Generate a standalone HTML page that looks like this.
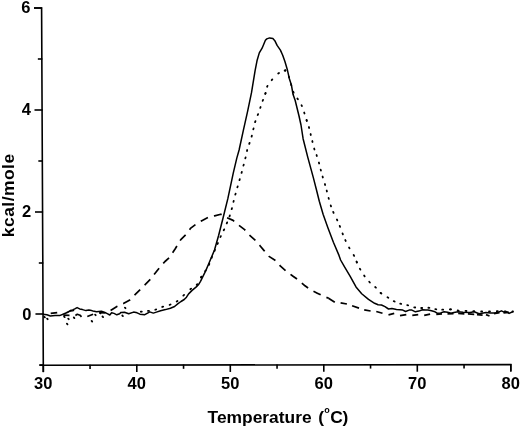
<!DOCTYPE html>
<html><head><meta charset="utf-8"><style>
html,body{margin:0;padding:0;background:#fff;}
svg{display:block;filter:grayscale(1);}
text{font-family:"Liberation Sans",sans-serif;font-weight:bold;fill:#000;}
</style></head><body>
<svg width="520" height="428" viewBox="0 0 520 428">
<rect width="520" height="428" fill="#fff"/>
<g stroke="#000" stroke-width="1.6" fill="none" stroke-linecap="butt">
<polyline points="34.00,8 41.60,8 43.33,372"/>
<polyline points="39.50,365.20 510.8,364.6 510.8,371.5"/>
<line x1="39.30" y1="365.00" x2="43.80" y2="365.00"/><line x1="35.46" y1="314.00" x2="43.56" y2="314.00"/><line x1="38.81" y1="263.00" x2="43.31" y2="263.00"/><line x1="34.97" y1="212.00" x2="43.07" y2="212.00"/><line x1="38.33" y1="161.00" x2="42.83" y2="161.00"/><line x1="34.49" y1="110.00" x2="42.59" y2="110.00"/><line x1="37.84" y1="59.00" x2="42.34" y2="59.00"/><line x1="34.00" y1="8.00" x2="42.10" y2="8.00"/><line x1="43.30" y1="364.70" x2="43.30" y2="372.20"/><line x1="90.05" y1="364.64" x2="90.05" y2="368.94"/><line x1="136.80" y1="364.58" x2="136.80" y2="372.08"/><line x1="183.55" y1="364.52" x2="183.55" y2="368.82"/><line x1="230.30" y1="364.46" x2="230.30" y2="371.96"/><line x1="277.05" y1="364.40" x2="277.05" y2="368.70"/><line x1="323.80" y1="364.34" x2="323.80" y2="371.84"/><line x1="370.55" y1="364.28" x2="370.55" y2="368.58"/><line x1="417.30" y1="364.22" x2="417.30" y2="371.72"/><line x1="464.05" y1="364.16" x2="464.05" y2="368.46"/><line x1="510.80" y1="364.10" x2="510.80" y2="371.60"/>
</g>
<g fill="none" stroke="#000" stroke-linejoin="round">
<polyline stroke-width="1.5" points="43.0,314.2 46.9,314.8 50.4,316.0 55.0,315.4 59.6,315.6 64.2,313.7 67.8,312.2 70.3,310.5 72.7,309.9 74.8,308.9 77.1,307.6 79.7,308.9 82.5,309.6 86.0,310.6 88.8,309.9 91.6,310.6 93.0,311.0 96.5,311.7 101.4,311.2 104.9,312.4 107.7,313.8 109.8,315.0 111.6,312.7 114.0,313.4 116.8,314.8 119.6,313.8 121.0,312.4 124.5,312.3 128.7,313.8 133.6,312.1 137.1,312.8 139.9,314.2 144.8,314.7 147.6,313.1 149.7,311.9 153.3,313.1 156.4,312.1 160.6,310.7 165.5,309.6 170.4,308.2 174.6,306.5 178.0,303.7 181.0,301.5 184.2,299.5 186.5,297.2 188.6,293.9 192.1,290.4 196.3,286.9 198.4,284.8 200.5,281.3 202.6,277.1 204.7,272.9 206.0,270.1 208.3,264.8 210.4,259.8 214.5,250.0 218.6,235.5 223.3,217.0 227.9,198.4 233.2,173.4 236.8,158.1 239.1,150.0 243.4,130.1 247.6,111.4 251.5,92.7 255.1,70.7 257.0,60.8 259.3,52.9 262.1,48.2 265.4,40.3 266.8,38.9 269.6,37.9 272.9,38.6 274.8,40.7 277.1,45.4 280.4,50.1 282.7,55.2 285.0,61.8 287.2,69.2 289.3,78.4 291.4,84.9 293.0,94.3 295.2,100.5 298.9,115.5 301.0,125.0 303.1,138.7 307.8,157.4 313.4,177.9 316.5,190.0 319.3,201.2 323.1,214.3 327.8,227.4 333.4,242.3 339.0,255.4 340.6,260.0 344.4,266.7 350.2,276.3 356.0,286.9 361.7,293.7 368.5,299.4 374.6,303.3 378.1,304.8 381.5,305.0 385.0,306.7 388.5,309.0 391.9,308.5 396.5,309.4 400.0,309.7 402.8,310.1 405.6,311.5 409.1,310.1 411.9,310.1 415.4,311.8 418.9,311.1 422.4,309.7 425.9,310.1 428.0,310.1 431.5,310.8 435.0,311.8 437.1,313.2 440.6,312.9 444.1,311.8 447.6,312.2 451.1,313.2 453.9,312.5 458.0,311.8 463.0,312.2 470.0,312.5 474.2,311.8 479.1,313.7 486.0,312.4 490.2,312.9 495.1,312.9 498.6,312.2 501.4,310.8 504.2,312.2 507.0,311.8 509.1,313.4 513.3,311.5"/>
<polyline stroke-width="1.3" points="66.5,312.6 68.5,311.8 70.5,311.2 72.5,310.9 74.2,310.4"/>
<g stroke-width="1.8" stroke-linecap="round"><line x1="140.80" y1="311.76" x2="141.80" y2="311.64"/><line x1="148.01" y1="310.97" x2="148.99" y2="310.83"/><line x1="155.22" y1="309.74" x2="156.18" y2="309.46"/><line x1="162.23" y1="306.96" x2="163.17" y2="306.64"/><line x1="169.63" y1="304.88" x2="170.57" y2="304.52"/><line x1="176.69" y1="301.49" x2="177.51" y2="300.91"/><line x1="183.33" y1="295.54" x2="184.07" y2="294.86"/><line x1="190.31" y1="289.21" x2="191.09" y2="288.59"/><line x1="196.67" y1="284.87" x2="197.33" y2="284.13"/><line x1="200.95" y1="277.53" x2="201.45" y2="276.67"/><polyline stroke-dasharray="1.0 6.522" stroke-dashoffset="0.5" points="201.2,277.1 205.0,271.5 208.5,266.0 211.6,257.8 214.7,250.5 217.9,243.1 221.0,235.7 225.2,227.3 229.4,216.8 232.6,206.0 234.2,198.5 241.4,173.4 245.7,157.0 247.2,150.0 251.5,137.1 255.0,122.3 258.5,113.0 262.8,100.5 265.5,93.3"/><line x1="265.38" y1="93.78" x2="265.62" y2="92.82"/><line x1="267.08" y1="86.75" x2="267.52" y2="85.85"/><line x1="271.67" y1="80.18" x2="272.33" y2="79.42"/><line x1="278.19" y1="73.49" x2="279.01" y2="72.91"/><line x1="284.64" y1="70.60" x2="285.56" y2="70.20"/><polyline stroke-dasharray="1.0 6.863" stroke-dashoffset="0.5" points="285.1,70.4 288.6,75.6 291.2,84.9 293.5,92.4 297.1,98.0 301.7,105.5 304.5,113.5 306.7,120.5"/><line x1="306.54" y1="120.02" x2="306.86" y2="120.98"/><line x1="308.86" y1="127.02" x2="309.14" y2="127.98"/><line x1="310.58" y1="134.01" x2="310.82" y2="134.99"/><line x1="312.28" y1="141.01" x2="312.52" y2="141.99"/><line x1="314.15" y1="148.52" x2="314.45" y2="149.48"/><line x1="316.54" y1="155.03" x2="316.86" y2="155.97"/><line x1="318.86" y1="162.52" x2="319.14" y2="163.48"/><line x1="320.67" y1="169.62" x2="320.93" y2="170.58"/><line x1="322.56" y1="176.52" x2="322.84" y2="177.48"/><line x1="324.86" y1="184.02" x2="325.14" y2="184.98"/><line x1="326.67" y1="190.52" x2="326.93" y2="191.48"/><line x1="328.57" y1="197.92" x2="328.83" y2="198.88"/><line x1="330.74" y1="205.43" x2="331.06" y2="206.37"/><line x1="333.20" y1="211.94" x2="333.60" y2="212.86"/><line x1="336.89" y1="219.45" x2="337.31" y2="220.35"/><line x1="339.71" y1="225.94" x2="340.09" y2="226.86"/><line x1="342.52" y1="233.44" x2="342.88" y2="234.36"/><line x1="345.29" y1="240.05" x2="345.71" y2="240.95"/><line x1="349.05" y1="247.46" x2="349.55" y2="248.34"/><line x1="353.67" y1="254.96" x2="354.13" y2="255.84"/><line x1="356.50" y1="261.54" x2="356.90" y2="262.46"/><polyline stroke-dasharray="1.0 6.998" stroke-dashoffset="0.5" points="356.7,262.0 359.8,268.7 364.6,276.3 370.4,283.1 376.2,287.9 381.0,293.2"/><line x1="380.58" y1="292.94" x2="381.42" y2="293.46"/><line x1="387.47" y1="297.24" x2="388.33" y2="297.76"/><line x1="393.75" y1="301.08" x2="394.65" y2="301.52"/><line x1="400.22" y1="303.66" x2="401.18" y2="303.94"/><line x1="407.22" y1="305.08" x2="408.18" y2="305.32"/><line x1="414.21" y1="307.30" x2="415.19" y2="307.50"/><line x1="421.20" y1="307.99" x2="422.20" y2="308.01"/><line x1="428.40" y1="307.76" x2="429.40" y2="307.84"/><line x1="435.30" y1="309.13" x2="436.30" y2="309.27"/><line x1="442.20" y1="309.69" x2="443.20" y2="309.71"/><line x1="449.90" y1="309.42" x2="450.90" y2="309.38"/><polyline stroke-dasharray="1.0 6.839" stroke-dashoffset="0.5" points="450.4,309.4 458.0,310.5 466.0,311.0 474.0,311.2 482.0,311.5 490.0,311.5 498.0,311.2 506.0,311.5 513.0,311.5"/></g>
<g stroke-width="1.8" stroke-linecap="round"><line x1="44.30" y1="316.80" x2="44.90" y2="317.40"/><line x1="47.10" y1="318.60" x2="47.70" y2="319.20"/><line x1="64.10" y1="316.50" x2="64.70" y2="317.10"/><line x1="68.20" y1="318.60" x2="68.80" y2="319.20"/><line x1="66.90" y1="323.70" x2="67.50" y2="324.30"/><line x1="73.80" y1="317.50" x2="74.40" y2="318.10"/><line x1="91.60" y1="320.90" x2="92.20" y2="321.50"/><line x1="95.10" y1="314.60" x2="95.70" y2="315.20"/><line x1="99.90" y1="312.80" x2="100.50" y2="313.40"/><line x1="102.50" y1="316.50" x2="103.10" y2="317.10"/><line x1="122.30" y1="315.50" x2="122.90" y2="316.10"/><line x1="124.90" y1="307.60" x2="125.50" y2="308.20"/></g>
<g stroke-width="1.7"><polyline points="50.7,313.4 57.2,312.6"/><polyline points="63.4,315.2 69.5,315.3"/><polyline points="75.4,315.5 77.3,314.3 80.0,315.2 81.5,316.8"/><polyline points="87.3,316.5 93.1,314.2"/><polyline points="99.5,312.6 105.5,312.9"/><polyline stroke-dasharray="8 6.3" points="110.6,310.4 117.3,306.3 123.4,303.6 129.4,300.3 134.8,294.9 140.2,289.5 144.9,284.8 150.3,279.4 154.7,273.7 159.6,267.5 165.0,261.5 169.5,257.5 175.4,248.5 180.8,239.6 186.9,233.5 190.8,228.1 196.9,223.5 202.3,220.4 208.5,217.3 214.6,215.8 220.8,214.2 226.2,217.3 233.1,220.4 238.5,225.0 244.6,229.6 248.5,234.2 255.4,240.4 260.0,245.7 264.1,250.6 269.0,256.4 275.5,260.5 280.5,266.2 286.2,271.1 292.7,276.0 298.5,280.1 305.0,285.8 310.7,289.9 317.3,293.2 322.2,295.6 328.7,298.3"/><polyline points="328.5,298.3 334.8,302.3"/><polyline points="340.6,302.9 346.9,304.0"/><polyline points="352.1,305.8 359.0,308.1"/><polyline points="364.2,309.8 370.6,311.0"/><polyline points="376.3,311.5 382.5,313.2"/><polyline points="388.5,314.8 394.2,313.4"/><polyline points="400.0,315.6 406.3,314.6"/><polyline points="412.3,315.3 418.2,314.6"/><polyline points="424.2,315.3 430.1,314.1"/><polyline points="436.3,314.3 442.0,313.8"/><polyline points="447.5,313.8 453.5,313.6"/><polyline points="458.2,313.4 464.4,313.9"/><polyline points="467.9,313.9 474.2,314.3"/><polyline points="477.0,314.6 482.6,315.1"/><polyline points="486.0,314.6 489.5,316.0"/><polyline points="494.0,313.6 499.5,312.6"/><polyline points="503.5,312.8 509.0,312.4"/></g>
</g>
<g font-size="16.5">
<text x="31.5" y="319.8" text-anchor="end">0</text><text x="31.2" y="217.0" text-anchor="end">2</text><text x="31.0" y="115.3" text-anchor="end">4</text><text x="30.4" y="13.0" text-anchor="end">6</text>
<text x="43.3" y="388.8" text-anchor="middle">30</text><text x="136.8" y="388.8" text-anchor="middle">40</text><text x="230.3" y="388.8" text-anchor="middle">50</text><text x="323.8" y="388.8" text-anchor="middle">60</text><text x="417.3" y="388.8" text-anchor="middle">70</text><text x="510.8" y="388.8" text-anchor="middle">80</text>
</g>
<g font-size="17.4">
<text x="207.6" y="422.6">Temperature</text>
<text x="318.3" y="422.6">(</text>
<text x="324.2" y="412.6" font-size="9">o</text>
<text x="330.2" y="422.6">C</text>
<text x="342.5" y="422.6">)</text>
<text transform="translate(14,237.2) rotate(-90)" letter-spacing="0.5">kcal/mole</text>
</g>
</svg>
</body></html>
